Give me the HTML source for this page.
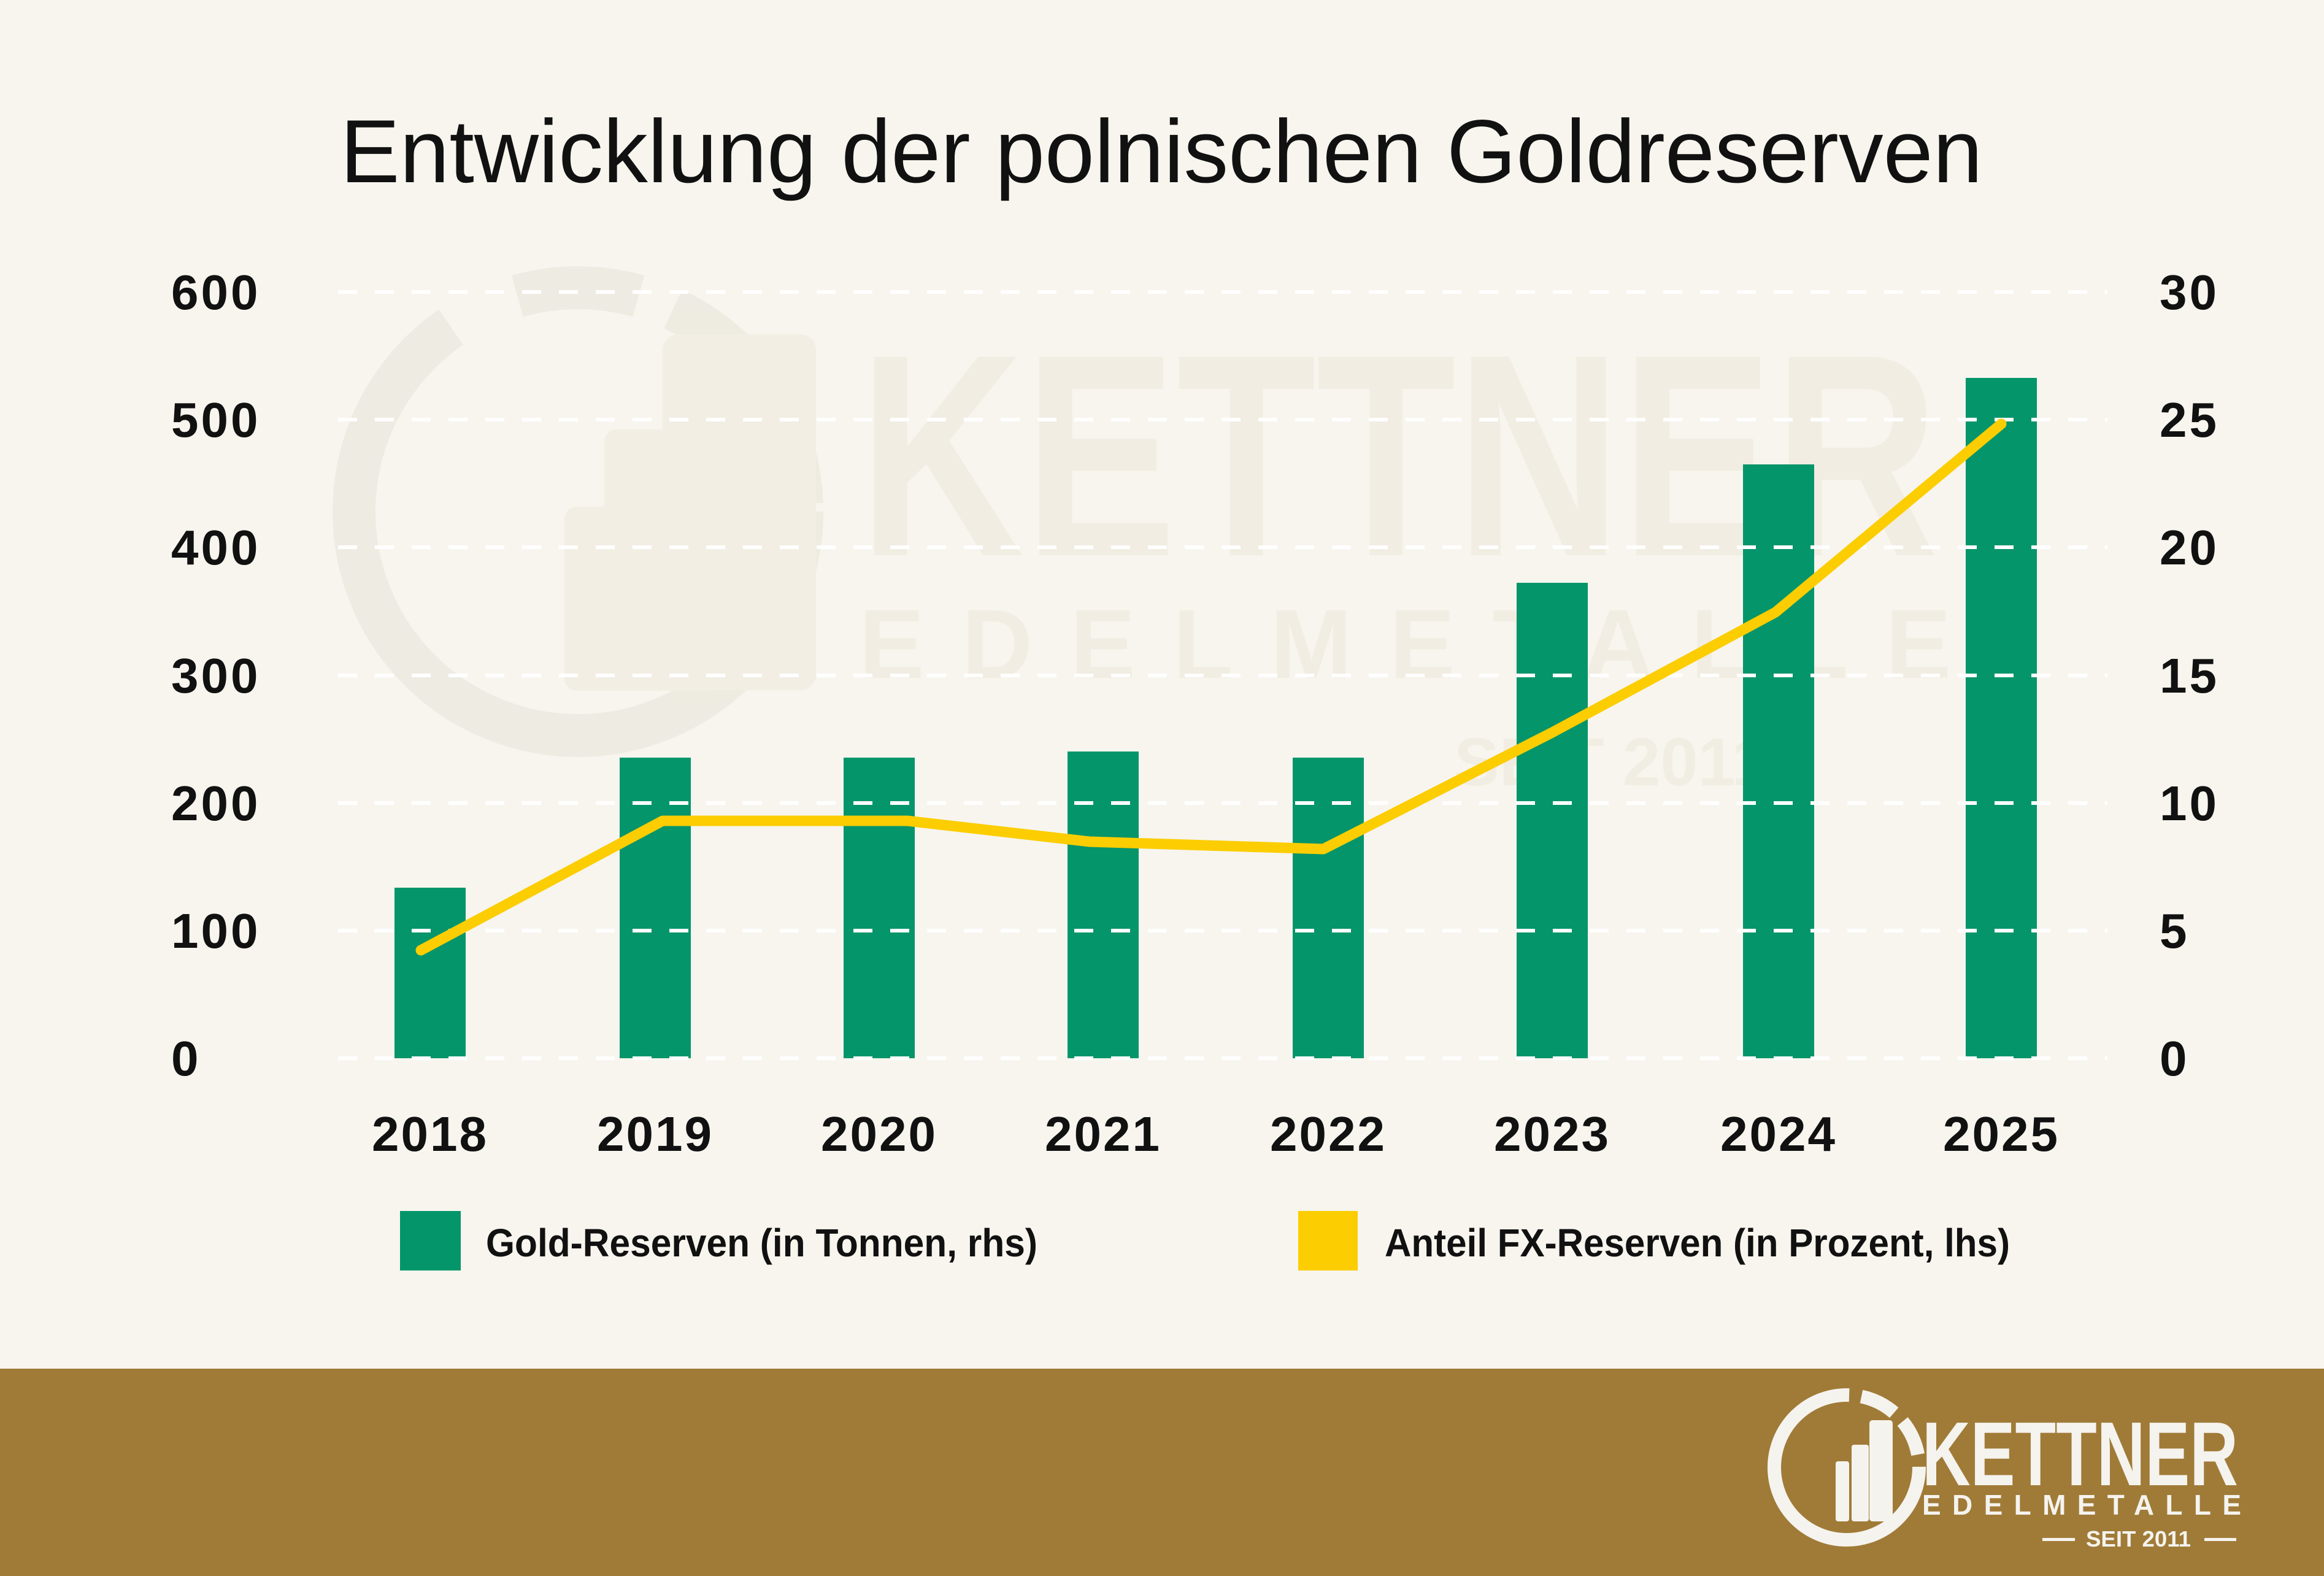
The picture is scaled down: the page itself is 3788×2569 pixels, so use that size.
<!DOCTYPE html>
<html><head><meta charset="utf-8"><style>
html,body{margin:0;padding:0;background:#F7F5EE;}
svg{display:block;}
</style></head><body>
<svg width="3788" height="2569" viewBox="0 0 3788 2569" xmlns="http://www.w3.org/2000/svg" font-family="Liberation Sans, sans-serif">
<rect width="3788" height="2569" fill="#F7F5EE"/>
<!-- watermark -->
<g opacity="0.4">
<circle cx="942" cy="834" r="365" fill="none" stroke="#E2DDD0" stroke-width="70" stroke-dasharray="1500 120 200 60 200 60 140 2000"/>
<rect x="920" y="826" width="250" height="300" rx="20" fill="#EDE5D6"/>
<rect x="985" y="700" width="210" height="425" rx="20" fill="#EDE5D6"/>
<rect x="1080" y="545" width="250" height="580" rx="25" fill="#EDE5D6"/>
<text x="1400" y="905" font-size="470" font-weight="bold" fill="#EAE2D2" textLength="1760" lengthAdjust="spacingAndGlyphs">KETTNER</text>
<text x="1400" y="1105" font-size="160" font-weight="bold" fill="#EAE2D2" textLength="1780" lengthAdjust="spacing">EDELMETALLE</text>
<text x="2370" y="1280" font-size="110" font-weight="bold" fill="#EAE2D2">SEIT 2011</text>
</g>
<!-- title -->
<text x="1893" y="297" font-size="146" text-anchor="middle" fill="#111" textLength="2677" lengthAdjust="spacingAndGlyphs">Entwicklung der polnischen Goldreserven</text>
<!-- bars -->
<g fill="#05956A">
<rect x="643" y="1447" width="116" height="278"/>
<rect x="1010" y="1235" width="116" height="490"/>
<rect x="1375" y="1235" width="116" height="490"/>
<rect x="1740" y="1225" width="116" height="500"/>
<rect x="2107" y="1235" width="116" height="490"/>
<rect x="2472" y="950" width="116" height="775"/>
<rect x="2841" y="757" width="116" height="968"/>
<rect x="3204" y="616" width="116" height="1109"/>
</g>
<!-- grid -->
<g stroke="#FFFFFF" stroke-width="6" stroke-dasharray="31 29">
<line x1="551" y1="476" x2="3435" y2="476"/>
<line x1="551" y1="684" x2="3435" y2="684"/>
<line x1="551" y1="892" x2="3435" y2="892"/>
<line x1="551" y1="1101" x2="3435" y2="1101"/>
<line x1="551" y1="1309" x2="3435" y2="1309"/>
<line x1="551" y1="1517" x2="3435" y2="1517"/>
<line x1="551" y1="1725" x2="3435" y2="1725"/>
</g>
<!-- line -->
<polyline points="686,1549 1080,1338 1479,1338 1776,1372 2157,1384 2530,1194 2894,998 3262,691" fill="none" stroke="#FCCD00" stroke-width="17" stroke-linecap="round" stroke-linejoin="round"/>
<!-- y labels -->
<g font-size="80" font-weight="bold" fill="#111" letter-spacing="4">
<text x="279" y="504">600</text>
<text x="279" y="712">500</text>
<text x="279" y="920">400</text>
<text x="279" y="1129">300</text>
<text x="279" y="1337">200</text>
<text x="279" y="1545">100</text>
<text x="279" y="1753">0</text>
<text x="3520" y="504">30</text>
<text x="3520" y="712">25</text>
<text x="3520" y="920">20</text>
<text x="3520" y="1129">15</text>
<text x="3520" y="1337">10</text>
<text x="3520" y="1545">5</text>
<text x="3520" y="1753">0</text>
</g>
<g font-size="80" font-weight="bold" fill="#111" text-anchor="middle" letter-spacing="3">
<text x="701" y="1876">2018</text>
<text x="1068" y="1876">2019</text>
<text x="1433" y="1876">2020</text>
<text x="1798" y="1876">2021</text>
<text x="2165" y="1876">2022</text>
<text x="2530" y="1876">2023</text>
<text x="2899" y="1876">2024</text>
<text x="3262" y="1876">2025</text>
</g>
<!-- legend -->
<rect x="652" y="1974" width="99" height="97" fill="#05956A"/>
<text x="792" y="2048" font-size="64" font-weight="bold" fill="#111" textLength="899" lengthAdjust="spacingAndGlyphs">Gold-Reserven (in Tonnen, rhs)</text>
<rect x="2116" y="1974" width="97" height="97" fill="#FCCD00"/>
<text x="2257" y="2048" font-size="64" font-weight="bold" fill="#111" textLength="1019" lengthAdjust="spacingAndGlyphs">Anteil FX-Reserven (in Prozent, lhs)</text>
<!-- banner -->
<rect x="0" y="2231" width="3788" height="338" fill="#A07B38"/>
<g fill="#F5F3EE">
<circle cx="3010" cy="2392" r="118" fill="none" stroke="#F5F3EE" stroke-width="22" stroke-dasharray="560 20 60 20 60 20 60 20 600"/>
<rect x="2992" y="2382" width="22" height="98" rx="4"/>
<rect x="3018" y="2355" width="28" height="125" rx="4"/>
<rect x="3047" y="2315" width="38" height="165" rx="5"/>
<text x="3133" y="2421" font-size="148" font-weight="bold" textLength="515" lengthAdjust="spacingAndGlyphs">KETTNER</text>
<text x="3133" y="2469" font-size="46" font-weight="bold" textLength="520" lengthAdjust="spacing">EDELMETALLE</text>
<text x="3400" y="2521" font-size="36" font-weight="bold" textLength="171" lengthAdjust="spacingAndGlyphs">SEIT 2011</text>
<rect x="3329" y="2507" width="53" height="5"/>
<rect x="3593" y="2507" width="52" height="5"/>
</g>
</svg>
</body></html>
